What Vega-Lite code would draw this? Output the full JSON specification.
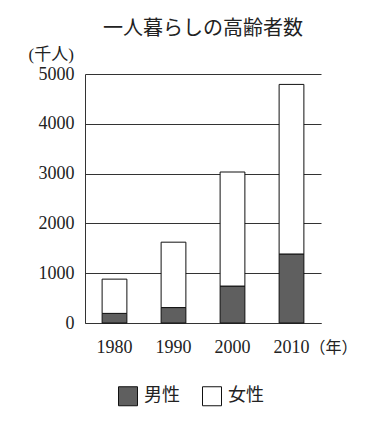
{
  "$schema": "https://vega.github.io/schema/vega-lite/v6.json",
  "width": 236,
  "height": 249,
  "autosize": {"type": "none"},
  "padding": {"left": 85, "top": 74, "right": 48, "bottom": 115},
  "background": "white",
  "title": {
    "text": "一人暮らしの高齢者数",
    "fontSize": 20,
    "font": "Noto Sans CJK JP",
    "fontWeight": "normal",
    "color": "#222",
    "anchor": "middle",
    "frame": "group",
    "offset": 6
  },
  "config": {
    "view": {"stroke": null},
    "font": "Liberation Serif, Noto Sans CJK JP"
  },
  "data": {
    "values": [
      {"year": "1980", "sex": "男性", "value": 193},
      {"year": "1980", "sex": "女性", "value": 688},
      {"year": "1990", "sex": "男性", "value": 310},
      {"year": "1990", "sex": "女性", "value": 1313},
      {"year": "2000", "sex": "男性", "value": 742},
      {"year": "2000", "sex": "女性", "value": 2290},
      {"year": "2010", "sex": "男性", "value": 1386},
      {"year": "2010", "sex": "女性", "value": 3405}
    ]
  },
  "mark": {"type": "bar", "stroke": "#111", "strokeWidth": 1},
  "encoding": {
    "x": {
      "field": "year",
      "type": "nominal",
      "scale": {"paddingInner": 0.58, "paddingOuter": 0.29},
      "axis": {
        "labelAngle": 0,
        "labelFontSize": 18,
        "labelFont": "Liberation Serif",
        "labelColor": "#222",
        "labelPadding": 15,
        "ticks": false,
        "domain": true,
        "domainColor": "#333",
        "title": "（年）",
        "titleFont": "Noto Sans CJK JP",
        "titleFontSize": 16,
        "titleFontWeight": "normal",
        "titleColor": "#222",
        "titleAlign": "left",
        "titleBaseline": "top",
        "titleX": 224,
        "titleY": 16
      }
    },
    "y": {
      "field": "value",
      "type": "quantitative",
      "aggregate": "sum",
      "stack": "zero",
      "scale": {"domain": [0, 5000], "nice": false},
      "axis": {
        "values": [0, 1000, 2000, 3000, 4000, 5000],
        "format": "d",
        "labelFontSize": 18,
        "labelFont": "Liberation Serif",
        "labelColor": "#222",
        "labelPadding": 11,
        "ticks": false,
        "domain": true,
        "domainColor": "#333",
        "grid": true,
        "gridColor": "#333",
        "gridOpacity": 1,
        "title": "(千人)",
        "titleFont": "Liberation Serif, Noto Sans CJK JP",
        "titleFontSize": 17,
        "titleFontWeight": "normal",
        "titleColor": "#222",
        "titleAngle": 0,
        "titleAlign": "left",
        "titleBaseline": "middle",
        "titleX": -57,
        "titleY": -20
      }
    },
    "color": {
      "field": "sex",
      "type": "nominal",
      "sort": ["男性", "女性"],
      "scale": {"domain": ["男性", "女性"], "range": ["#5f5f5f", "#ffffff"]},
      "legend": {
        "title": null,
        "orient": "none",
        "direction": "horizontal",
        "legendX": 33,
        "legendY": 312,
        "symbolType": "square",
        "symbolSize": 361,
        "symbolStrokeColor": "#111",
        "symbolStrokeWidth": 1,
        "symbolOpacity": 1,
        "labelFontSize": 18,
        "labelFont": "Noto Sans CJK JP",
        "labelColor": "#222",
        "labelOffset": 6,
        "columnPadding": 20,
        "padding": 0
      }
    }
  }
}
